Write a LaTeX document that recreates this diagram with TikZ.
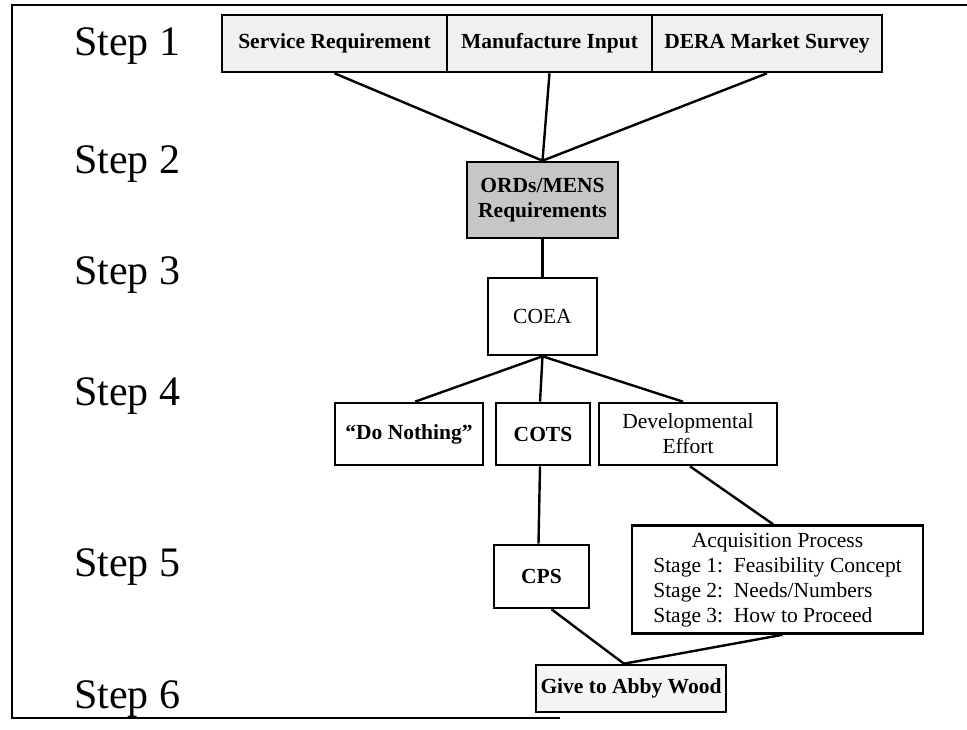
\documentclass[tikz,border=0pt]{standalone}
\usepackage{fontspec}
\setmainfont{Liberation Serif}
\usepackage{tikz}

\tikzset{
  box/.style={draw, line width=2.6pt, inner sep=0pt, align=center, font=\fontsize{21.5}{25}\selectfont},
  bbox/.style={box, font=\fontsize{21.5}{25}\selectfont\bfseries},
  steplabel/.style={anchor=base west, inner sep=0pt, font=\fontsize{42}{48}\selectfont},
  link/.style={line width=2.4pt},
}

\begin{document}
\begin{tikzpicture}[x=1pt, y=-1pt]
\useasboundingbox (0,0) rectangle (967,729);
\draw[line width=2pt] (967,5) -- (12,5) -- (12,718) -- (560,718);

% step labels
\node[steplabel] (s1) at (74,55) {Step 1};
\node[steplabel] (s2) at (74,173) {Step 2};
\node[steplabel] (s3) at (74,284) {Step 3};
\node[steplabel] (s4) at (74,405) {Step 4};
\node[steplabel] (s5) at (74,576) {Step 5};
\node[steplabel] (s6) at (74,708) {Step 6};

% boxes
\node[bbox, fill=gray!12, minimum width=225pt, minimum height=57pt] (serv) at (334.5,43.5) {Service Requirement};
\node[bbox, fill=gray!12, minimum width=205pt, minimum height=57pt] (manu) at (549.5,43.5) {Manufacture Input};
\node[bbox, fill=gray!12, minimum width=230pt, minimum height=57pt] (dera) at (767,43.5) {DERA Market Survey};
\node[bbox, fill=gray!45, minimum width=151pt, minimum height=76pt] (ords) at (542.5,200) {ORDs/MENS\\Requirements};
\node[box, minimum width=109pt, minimum height=77pt] (coea) at (542.5,316.5) {COEA};
\node[bbox, minimum width=148pt, minimum height=62pt] (nothing) at (409,434) {``Do Nothing''};
\node[bbox, minimum width=94pt, minimum height=62pt] (cots) at (543,434) {COTS};
\node[box, minimum width=178pt, minimum height=62pt] (devel) at (688,434) {Developmental\\Effort};
\node[bbox, minimum width=95pt, minimum height=63pt] (cps) at (541.5,576.5) {CPS};
\node[box, minimum width=291pt, minimum height=108pt] (acq) at (777.5,579.5) {%
  \begin{tabular}{@{}l@{}}
  \multicolumn{1}{@{}c@{}}{Acquisition Process}\\
  Stage 1:\ \ Feasibility Concept\\
  Stage 2:\ \ Needs/Numbers\\
  Stage 3:\ \ How to Proceed
  \end{tabular}};
\node[bbox, fill=gray!8, minimum width=190pt, minimum height=47pt] (give) at (631,688.5) {Give to Abby Wood};

% connectors
\draw[link] (serv.south) -- (ords.north);
\draw[link] (manu.south) -- (ords.north);
\draw[link] (dera.south) -- (ords.north);
\draw[link] (ords) -- (coea);
\draw[link] (coea.south) -- ([xshift=6pt]nothing.north);
\draw[link] (coea.south) -- ([xshift=-3pt]cots.north);
\draw[link] (coea.south) -- ([xshift=-5pt]devel.north);
\draw[link] ([xshift=-3pt]cots.south) -- ([xshift=-3pt]cps.north);
\draw[link] ([xshift=2pt]devel.south) -- ([xshift=-4.5pt]acq.north);
\draw[link] ([xshift=10pt]cps.south) -- ([xshift=-7pt]give.north);
\draw[link] ([xshift=5pt]acq.south) -- ([xshift=-7pt]give.north);
\end{tikzpicture}
\end{document}
